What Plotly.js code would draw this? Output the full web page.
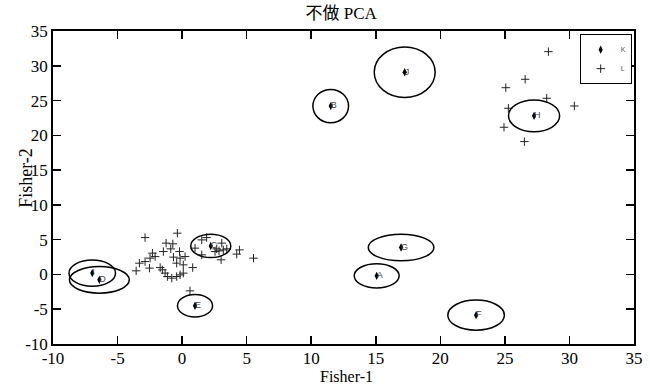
<!DOCTYPE html>
<html>
<head>
<meta charset="utf-8">
<script src="https://cdn.plot.ly/plotly-3.0.1.min.js"></script>
<style>html,body{margin:0;padding:0;background:#fff;}#chart{width:650px;height:385px;}</style>
</head>
<body>
<div id="chart"></div>
<script>
// Cluster centres (K) with labels and ellipse half-widths
var centerLabels = ['A','B','C','D','E','F','G','H','I','J'];
var centerX = [15.07, 11.51, 2.22, -6.41, 1.0, 22.77, 16.96, 27.26, -6.96, 17.24];
var centerY = [-0.2, 24.2, 4.1, -0.78, -4.5, -5.85, 3.87, 22.8, 0.19, 29.07];
var radiusX = [1.74, 1.38, 1.55, 2.32, 1.36, 2.19, 2.54, 1.98, 1.8, 2.36];
var radiusY = [1.75, 2.4, 1.68, 1.91, 1.62, 2.16, 1.91, 2.27, 1.87, 3.63];

// Sample points (L)
var pointX = [-2.87, -0.37, -1.24, -0.72, -0.88, -1.45, -2.30, -2.09, -2.48, -2.87,
              -3.31, -3.56, -2.53, -1.70, -1.53, -1.32, -1.14, -0.80, -0.42, -0.16,
              0.09, -0.20, -0.67, -0.16, 0.23, -0.42, 0.09, 0.82, 0.61, 1.52,
              1.90, 3.07, 2.68, 2.86, 3.19, 3.46, 2.55, 1.0, 1.52, 3.02,
              4.23, 4.44, 5.53,
              28.37, 26.57, 25.07, 28.24, 25.27, 30.38, 24.93, 26.51];
var pointY = [5.30, 5.93, 4.50, 4.40, 3.68, 3.29, 3.06, 2.57, 2.34, 1.85,
              1.62, 0.52, 0.91, 0.99, 0.66, 0.19, -0.30, -0.53, -0.30, -0.06,
              0.19, 3.29, 2.49, 2.34, 2.57, 1.62, 1.38, 0.99, -2.36, 4.97,
              5.30, 4.50, 3.68, 3.39, 3.53, 3.68, 3.29, 3.78, 2.82, 2.10,
              2.92, 3.53, 2.34,
              32.03, 28.06, 26.85, 25.33, 23.89, 24.22, 21.16, 19.1];

var titleText = '不做 PCA';
var xTitle = 'Fisher-1';
var yTitle = 'Fisher-2';
var tickVals = [-10, -5, 0, 5, 10, 15, 20, 25, 30, 35];
var tickText = ['-10', '-5', '0', '5', '10', '15', '20', '25', '30', '35'];

var serif = 'Liberation Serif, Times New Roman, Noto Sans CJK SC, serif';

var traces = [
  {
    x: centerX, y: centerY, type: 'scatter', mode: 'markers', name: 'K',
    marker: {symbol: 'diamond-tall', size: 6, color: '#000'}
  },
  {
    x: pointX, y: pointY, type: 'scatter', mode: 'markers', name: 'L',
    marker: {symbol: 'cross-thin', size: 6, color: '#000', line: {width: 1, color: '#222'}}
  },
  {
    x: centerX, y: centerY, type: 'scatter', mode: 'text', text: centerLabels,
    textposition: 'middle right', showlegend: false, hoverinfo: 'skip',
    textfont: {family: 'Liberation Sans, Arial, sans-serif', size: 9, color: '#444'}
  }
];

var shapes = centerX.map(function (cx, i) {
  return {
    type: 'circle', xref: 'x', yref: 'y',
    x0: cx - radiusX[i], x1: cx + radiusX[i],
    y0: centerY[i] - radiusY[i], y1: centerY[i] + radiusY[i],
    line: {color: '#000', width: 1.5}
  };
});

var axisCommon = {
  range: [-10, 35], tickvals: tickVals, ticktext: tickText, showgrid: false, zeroline: false,
  showline: true, linecolor: '#000', linewidth: 1.8, mirror: 'ticks',
  ticks: 'inside', ticklen: 8, tickwidth: 1.5, tickcolor: '#000',
  tickfont: {family: serif, size: 17, color: '#000'}
};

var layout = {
  width: 650, height: 385,
  margin: {l: 53, r: 16, t: 31, b: 41},
  paper_bgcolor: '#fff', plot_bgcolor: '#fff',
  title: {text: titleText, x: 0.525, xanchor: 'center', y: 0.965, yanchor: 'middle',
          font: {family: serif, size: 17, color: '#000'}},
  xaxis: Object.assign({}, axisCommon, {ticklabelstandoff: -2}),
  yaxis: Object.assign({}, axisCommon, {ticklabelstandoff: 0}),
  annotations: [
    {
      text: yTitle, xref: 'paper', yref: 'paper', x: -0.047, y: 0.53,
      xanchor: 'center', yanchor: 'middle', textangle: -90, showarrow: false,
      font: {family: serif, size: 18, color: '#000'}
    },
    {
      text: xTitle, xref: 'paper', yref: 'paper', x: 0.505, y: -0.104,
      xanchor: 'center', yanchor: 'middle', showarrow: false,
      font: {family: serif, size: 16, color: '#000'}
    }
  ],
  shapes: shapes,
  showlegend: true,
  legend: {
    x: 0.996, y: 0.99, xanchor: 'right', yanchor: 'top',
    bgcolor: '#fff', bordercolor: '#000', borderwidth: 1,
    font: {family: 'Liberation Sans, Arial, sans-serif', size: 7, color: '#555'},
    tracegroupgap: 0, itemwidth: 30
  }
};

Plotly.newPlot('chart', traces, layout, {displayModeBar: false, staticPlot: true});
</script>
</body>
</html>
